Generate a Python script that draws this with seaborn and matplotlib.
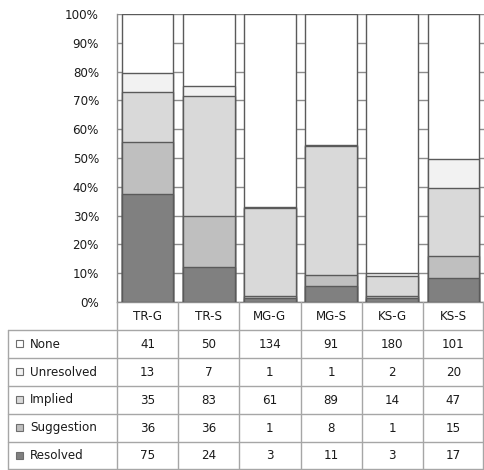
import numpy as np
import pandas as pd
import matplotlib
matplotlib.use("Agg")
import matplotlib.pyplot as plt
from matplotlib.patches import Rectangle
import seaborn as sns

# -----------------------------
# Data (counts per group)
# -----------------------------
groups = ["TR-G", "TR-S", "MG-G", "MG-S", "KS-G", "KS-S"]
series_names = ["None", "Unresolved", "Implied", "Suggestion", "Resolved"]
none_vals = [41, 50, 134, 91, 180, 101]
unresolved_vals = [13, 7, 1, 1, 2, 20]
implied_vals = [35, 83, 61, 89, 14, 47]
suggestion_vals = [36, 36, 1, 8, 1, 15]
resolved_vals = [75, 24, 3, 11, 3, 17]
series_colors = ["#ffffff", "#f2f2f2", "#d9d9d9", "#bfbfbf", "#808080"]

# stacking order: bottom -> top
stack = [
    ("Resolved", resolved_vals),
    ("Suggestion", suggestion_vals),
    ("Implied", implied_vals),
    ("Unresolved", unresolved_vals),
    ("None", none_vals),
]
color_of = dict(zip(series_names, series_colors))

counts = np.array([v for _, v in stack], dtype=float)
pct = counts / counts.sum(axis=0) * 100
cum = np.cumsum(pct, axis=0)

rows = []
for (name, _), c in zip(stack, cum):
    for g, val in zip(groups, c):
        rows.append({"group": g, "series": name, "cum": val})
df = pd.DataFrame(rows)

# -----------------------------
# Figure layout (pixels)
# -----------------------------
W, H = 484, 470
left_px, right_px = 117, 484
top_px, bottom_px = 14, 302
table_left = 8
row_h = [28, 28, 28, 28, 28, 28]  # header + 5 rows

sns.set_style("white")
plt.rcParams["font.family"] = ["DejaVu Sans"]
fs = 8.6
txt_color = "#1a1a1a"

fig = plt.figure(figsize=(W / 100, H / 100), dpi=100)
ax = fig.add_axes([left_px / W, 1 - bottom_px / H,
                   (right_px - left_px) / W, (bottom_px - top_px) / H])

# draw tallest cumulative first so lower segments sit on top
for name, _ in reversed(stack):
    sub = df[df["series"] == name]
    sns.barplot(data=sub, x="group", y="cum", order=groups,
                color=color_of[name], saturation=1, width=0.845,
                edgecolor="#5a5a5a", linewidth=1.0, ax=ax, zorder=3)

ax.set_ylim(0, 100)
ax.set_xlim(-0.5, len(groups) - 0.5)
ax.set_yticks(np.arange(0, 101, 10))
ax.set_yticklabels([f"{t}%" for t in range(0, 101, 10)], fontsize=fs, color=txt_color)
ax.tick_params(axis="y", length=0, pad=13)
ax.set_xticks([])
ax.set_xlabel("")
ax.set_ylabel("")
ax.yaxis.grid(True, color="#8c8c8c", linewidth=1.0, zorder=0)
ax.set_axisbelow(True)
for s in ["top", "right"]:
    ax.spines[s].set_visible(False)
for s in ["left", "bottom"]:
    ax.spines[s].set_color("#8c8c8c")
    ax.spines[s].set_linewidth(1.0)

# -----------------------------
# Data table under the chart
# -----------------------------
tax = fig.add_axes([0, 0, 1, 1 - bottom_px / H])
tax.set_xlim(0, W)
tax.set_ylim(H, bottom_px)
tax.axis("off")

line_kw = dict(color="#a6a6a6", linewidth=1.0)
col_w = (right_px - left_px) / len(groups)
col_edges = [left_px + i * col_w for i in range(len(groups) + 1)]
y_edges = [bottom_px]
for h in row_h:
    y_edges.append(y_edges[-1] + h)
y_edges[-1] = H - 1

# header row
for i, g in enumerate(groups):
    cx = (col_edges[i] + col_edges[i + 1]) / 2
    tax.text(cx, (y_edges[0] + y_edges[1]) / 2, g, ha="center", va="center",
             fontsize=fs, color=txt_color)
for x in col_edges:
    tax.plot([x, x], [y_edges[0], y_edges[-1]], **line_kw)

# body rows
table_vals = [none_vals, unresolved_vals, implied_vals, suggestion_vals, resolved_vals]
for r, (name, vals) in enumerate(zip(series_names, table_vals)):
    y0, y1 = y_edges[r + 1], y_edges[r + 2]
    cy = (y0 + y1) / 2
    tax.add_patch(Rectangle((16, cy - 4), 7, 7, facecolor=color_of[name],
                            edgecolor="#6e6e6e", linewidth=0.8))
    tax.text(30, cy, name, ha="left", va="center", fontsize=fs, color=txt_color)
    for i, v in enumerate(vals):
        cx = (col_edges[i] + col_edges[i + 1]) / 2
        tax.text(cx, cy, str(v), ha="center", va="center", fontsize=fs, color=txt_color)
for y in y_edges[1:]:
    tax.plot([table_left, right_px - 1], [y, y], **line_kw)
tax.plot([table_left, table_left], [y_edges[1], y_edges[-1]], **line_kw)
tax.plot([right_px - 1, right_px - 1], [y_edges[0], y_edges[-1]], **line_kw)

fig.savefig("out.png", dpi=100)
